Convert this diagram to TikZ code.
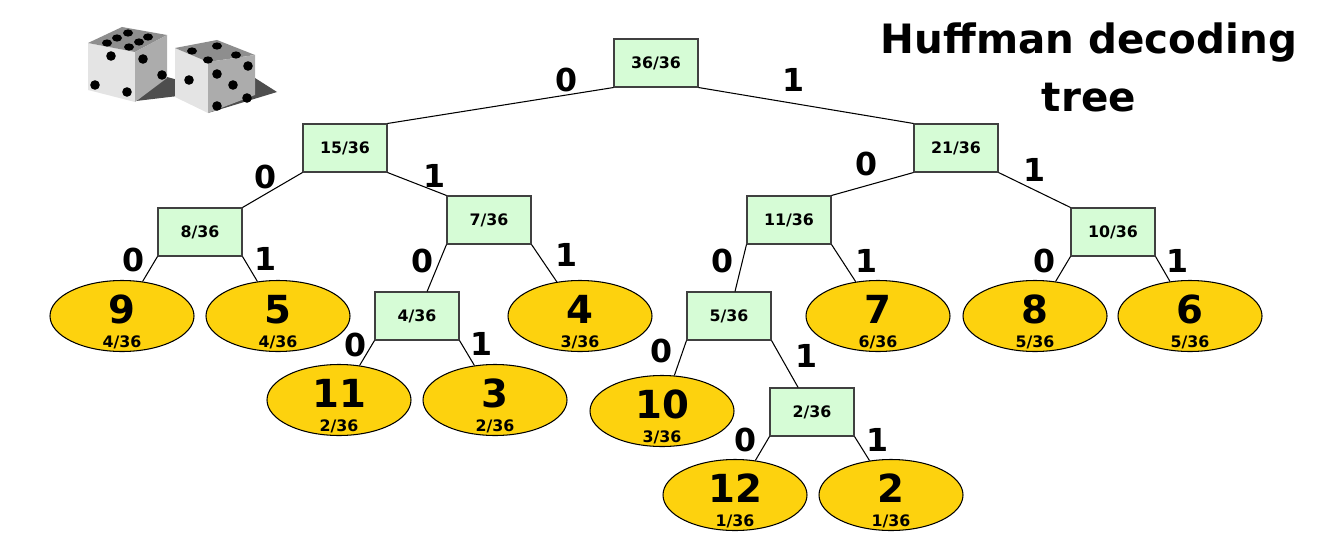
\documentclass[tikz,border=0pt]{standalone}
\usepackage{fontspec}
\setmainfont{DejaVu Sans}
\usetikzlibrary{shapes.geometric}
\definecolor{probgreen}{RGB}{214,252,214}
\definecolor{leafgold}{RGB}{253,210,14}
\definecolor{diefront}{RGB}{228,228,228}
\definecolor{dietop}{RGB}{142,142,142}
\definecolor{dieside}{RGB}{172,172,172}
\definecolor{dieshadow}{RGB}{78,78,78}
\tikzset{
  prob/.style={draw=black!75, fill=probgreen, line width=0.6pt,
    minimum width=1.68cm, minimum height=0.96cm, inner sep=0pt,
    font=\bfseries\fontsize{9}{9}\selectfont},
  leaf/.style={ellipse, draw=black, fill=leafgold, line width=0.6pt,
    minimum width=2.88cm, minimum height=1.42cm, inner sep=0pt,
    text height=16pt, text depth=8pt,
    font=\bfseries\fontsize{22}{22}\selectfont},
  frac/.style={anchor=base, yshift=2.3pt, inner sep=0pt,
    font=\bfseries\fontsize{9}{9}\selectfont},
  bit/.style={inner sep=0pt, font=\bfseries\fontsize{18}{18}\selectfont},
  branch/.style={line width=0.6pt},
  pip/.style={fill=black}
}

\begin{document}
\begin{tikzpicture}[x=0.2mm, y=-0.2mm]
  \useasboundingbox (0,0) rectangle (1320,542);

  % Dice
  \fill[dieshadow] (136,101) -- (167,77) -- (178,80) -- (178,96) -- cycle;
  \fill[diefront] (88,43) -- (135,52) -- (135,102) -- (88,90) -- cycle;
  \fill[dietop] (88,43) -- (122,27) -- (167,35) -- (135,52) -- cycle;
  \fill[dieside] (135,52) -- (167,35) -- (167,78) -- (135,102) -- cycle;
  \foreach \p in {(107,43),(117,38),(128,33),(148,37),(139,42),(129,47)}
    \fill[pip] \p ellipse (5 and 3.6);
  \foreach \p in {(111,56),(95,85),(127,92),(143,59),(162,75)}
    \fill[pip] \p circle (4.8);

  \fill[dieshadow] (255,78) -- (277,92) -- (208,113) -- cycle;
  \fill[diefront] (175,48) -- (208,62) -- (208,113) -- (175,97) -- cycle;
  \fill[dietop] (175,48) -- (217,40) -- (255,55) -- (208,62) -- cycle;
  \fill[dieside] (208,62) -- (255,55) -- (255,95) -- (208,113) -- cycle;
  \foreach \p in {(192,51),(217,46),(208,60),(236,55)}
    \fill[pip] \p ellipse (5 and 3.6);
  \foreach \p in {(189,80),(248,66),(217,74),(233,85),(247,98),(217,106)}
    \fill[pip] \p circle (4.8);

  % Title
  \node[anchor=north, inner sep=0pt, align=center,
        font=\bfseries\fontsize{23}{33}\selectfont] (title) at (1089,22)
        {Huffman decoding\\tree};

  % Inner nodes
  \node[prob] (b36) at (656,63)  {36/36};
  \node[prob] (b15) at (345,148) {15/36};
  \node[prob] (b21) at (956,148) {21/36};
  \node[prob] (b8)  at (200,232) {8/36};
  \node[prob] (b7)  at (489,220) {7/36};
  \node[prob] (b11) at (789,220) {11/36};
  \node[prob] (b10) at (1113,232) {10/36};
  \node[prob] (b4)  at (417,316) {4/36};
  \node[prob] (b5)  at (729,316) {5/36};
  \node[prob] (b2)  at (812,412) {2/36};

  % Leaves: sum of two dice
  \node[leaf, label={[frac]below:4/36}] (l9)  at (122,316) {9};
  \node[leaf, label={[frac]below:4/36}] (l5)  at (278,316) {5};
  \node[leaf, label={[frac]below:3/36}] (l4)  at (580,316) {4};
  \node[leaf, label={[frac]below:6/36}] (l7)  at (878,316) {7};
  \node[leaf, label={[frac]below:5/36}] (l8)  at (1035,316) {8};
  \node[leaf, label={[frac]below:5/36}] (l6)  at (1190,316) {6};
  \node[leaf, label={[frac]below:2/36}] (l11) at (339,400) {11};
  \node[leaf, label={[frac]below:2/36}] (l3)  at (495,400) {3};
  \node[leaf, label={[frac]below:3/36}] (l10) at (662,411) {10};
  \node[leaf, label={[frac]below:1/36}] (l12) at (735,495) {12};
  \node[leaf, label={[frac]below:1/36}] (l2)  at (891,495) {2};

  % Branches
  \draw[branch] (b36.south west) -- (b15.north east);
  \draw[branch] (b36.south east) -- (b21.north west);
  \draw[branch] (b15.south west) -- (b8.north east);
  \draw[branch] (b15.south east) -- (b7.north west);
  \draw[branch] (b21.south west) -- (b11.north east);
  \draw[branch] (b21.south east) -- (b10.north west);
  \draw[branch] (b8.south west) -- (l9);
  \draw[branch] (b8.south east) -- (l5);
  \draw[branch] (b7.south west) -- (b4);
  \draw[branch] (b7.south east) -- (l4);
  \draw[branch] (b4.south west) -- (l11);
  \draw[branch] (b4.south east) -- (l3);
  \draw[branch] (b11.south west) -- (b5);
  \draw[branch] (b11.south east) -- (l7);
  \draw[branch] (b10.south west) -- (l8);
  \draw[branch] (b10.south east) -- (l6);
  \draw[branch] (b5.south west) -- (l10);
  \draw[branch] (b5.south east) -- (b2);
  \draw[branch] (b2.south west) -- (l12);
  \draw[branch] (b2.south east) -- (l2);

  % Bit labels
  \node[bit] (z36) at (566,80)  {0};
  \node[bit] (o36) at (793,80)  {1};
  \node[bit] (z15) at (265,177) {0};
  \node[bit] (o15) at (434,176) {1};
  \node[bit] (z21) at (866,164) {0};
  \node[bit] (o21) at (1034,170) {1};
  \node[bit] (z8)  at (134,260) {0};
  \node[bit] (o8)  at (265,259) {1};
  \node[bit] (z7)  at (422,261) {0};
  \node[bit] (o7)  at (566,255) {1};
  \node[bit] (z11) at (722,261) {0};
  \node[bit] (o11) at (866,261) {1};
  \node[bit] (z10) at (1044,261) {0};
  \node[bit] (o10) at (1177,261) {1};
  \node[bit] (z4)  at (355,345) {0};
  \node[bit] (o4)  at (481,344) {1};
  \node[bit] (z5)  at (661,351) {0};
  \node[bit] (o5)  at (806,356) {1};
  \node[bit] (z2)  at (745,440) {0};
  \node[bit] (o2)  at (877,440) {1};
\end{tikzpicture}
\end{document}
